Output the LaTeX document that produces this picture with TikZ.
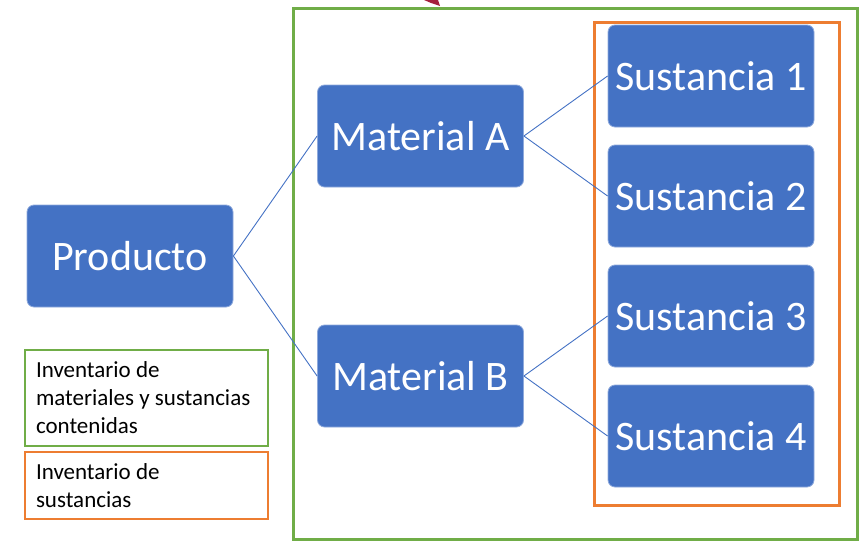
\documentclass[tikz,border=0pt]{standalone}
\usepackage{fontspec}
\setmainfont{Carlito}
\definecolor{boxblue}{HTML}{4472C4}
\definecolor{boxedge}{HTML}{8FAADC}
\definecolor{invgreen}{HTML}{70AD47}
\definecolor{invorange}{HTML}{ED7D31}
\definecolor{arrowred}{HTML}{A5203C}

\begin{document}
\begin{tikzpicture}[x=1pt, y=-1pt,
  grow'=right, level distance=290.5pt,
  level 1/.style = {sibling distance=240pt},
  level 2/.style = {sibling distance=120pt},
  edge from parent/.style = {draw=boxblue, line width=0.9pt},
  edge from parent path = {(\tikzparentnode.east) -- (\tikzchildnode.west)},
  item/.style = {shape=rectangle, rounded corners=7pt,
    fill=boxblue, draw=boxedge, line width=0.8pt, text=white,
    minimum width=206pt, minimum height=102pt, inner sep=0pt,
    font=\fontsize{42}{50}\selectfont},
  legend/.style = {shape=rectangle, line width=2.6pt, align=flush left,
    text width=221pt, inner xsep=11pt, minimum width=243pt,
    font=\fontsize{23}{28}\selectfont}]
  \useasboundingbox (0,0) rectangle (859,541);
  % group frames
  \draw[invgreen, line width=3pt] (293,8) rectangle (857,539);
  \draw[invorange, line width=3pt] (594,22) rectangle (839,505);
  % tip of an arrow cut off at the top
  \fill[arrowred] (424,0) -- (438,0) -- (440,6) -- (431,3) -- cycle;
  \node[item] (prod) at (130,256) {Producto}
    child { node[item] (matA) {Material A}
      child {node[item] (sus1) {Sustancia 1}}
      child {node[item] (sus2) {Sustancia 2}}
    }
    child { node[item] (matB) {Material B}
      child {node[item] (sus3) {Sustancia 3}}
      child {node[item] (sus4) {Sustancia 4}}
    };
  \node[legend, draw=invgreen, minimum height=96pt] (leggreen) at (146.5,398)
    {Inventario de\\materiales y sustancias\\contenidas};
  \node[legend, draw=invorange, minimum height=67pt] (legorange) at (146.5,485.5)
    {Inventario de\\sustancias};
\end{tikzpicture}
\end{document}
